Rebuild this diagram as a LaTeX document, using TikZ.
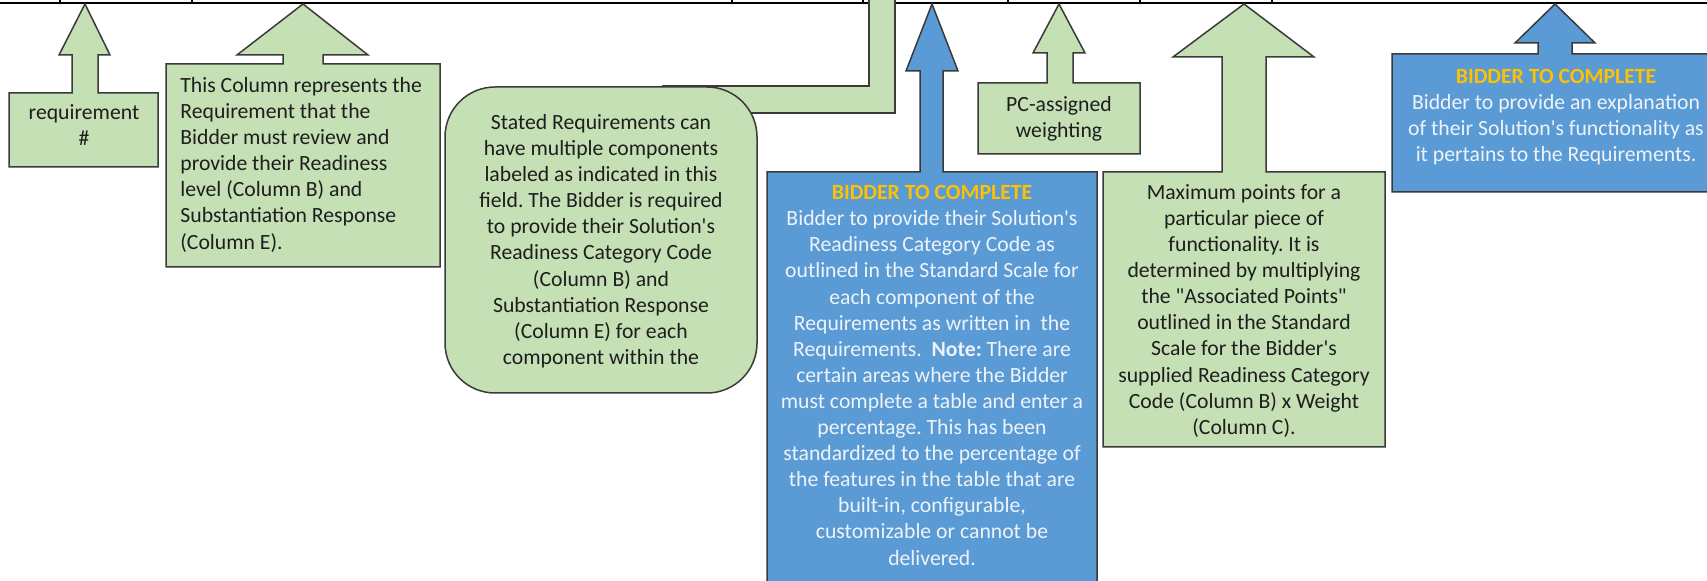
\documentclass[tikz,border=0pt]{standalone}
\usepackage{fontspec}
\setmainfont{Carlito}[Ligatures=TeXOff]
\definecolor{gfill}{HTML}{C5E0B4}
\definecolor{bfill}{HTML}{5B9BD5}
\definecolor{gold}{HTML}{FFC000}
\definecolor{edgec}{HTML}{3A3A3A}
\definecolor{btext}{HTML}{EEF3FA}
\definecolor{gtext}{HTML}{1E1E1E}
\frenchspacing
\begin{document}
\begin{tikzpicture}[x=0.5pt,y=-0.5pt,
  gshape/.style={fill=gfill,draw=edgec,line width=0.75pt,line join=miter},
  bshape/.style={fill=bfill,draw=edgec,line width=0.75pt,line join=miter},
  txt/.style={inner sep=0pt,font=\fontsize{10.85pt}{13.05pt}\selectfont},
  gtxt/.style={txt,text=gtext},
  btxt/.style={txt,text=btext}]
\useasboundingbox (0,0) rectangle (1707,581);
\clip (0,0) rectangle (1707,581);
% table border at top
\draw[line width=1pt,black] (0,3) -- (1707,3);
\foreach \xx in {60,192,732,863,1008,1140,1272}
  \draw[line width=0.75pt,black] (\xx,0) -- (\xx,3);
% callout 1
\path[gshape] (9,93) -- (72,93) -- (72,55) -- (59,55) -- (85,4) -- (110,55) -- (98,55) -- (98,93) -- (158,93) -- (158,167) -- (9,167) -- cycle;
\node[gtxt,align=center,anchor=north] (req) at (84,104) {requirement\\\#};
% callout 2
\path[gshape] (166,64) -- (283,64) -- (283,55) -- (237,55) -- (303,4) -- (368,55) -- (323,55) -- (323,64) -- (440,64) -- (440,267) -- (166,267) -- cycle;
\node[gtxt,align=left,anchor=north west] (col) at (180,77) {This Column represents the\\Requirement that the\\Bidder must review and\\provide their Readiness\\level (Column B) and\\Substantiation Response\\(Column E).};
% bent arrow behind rounded box
\path[gshape] (663,86) -- (869,86) -- (869,-10) -- (895,-10) -- (895,113) -- (663,113) -- cycle;
% rounded box
\path[gshape,rounded corners=25pt] (445,87) rectangle (757,393);
\node[gtxt,align=center,anchor=north] (stated) at (601,114) {Stated Requirements can\\have multiple components\\labeled as indicated in this\\field. The Bidder is required\\to provide their Solution's\\Readiness Category Code\\(Column B) and\\Substantiation Response\\(Column E) for each\\component within the};
% blue callout middle
\path[bshape] (767,172) -- (920,172) -- (920,71) -- (906,71) -- (932,4) -- (958,71) -- (943,71) -- (943,172) -- (1097,172) -- (1097,600) -- (767,600) -- cycle;
\node[btxt,align=center,anchor=north] (bid1) at (932,185) {{\color{gold}\bfseries BIDDER TO COMPLETE}\\Bidder to provide their Solution's\\Readiness Category Code as\\outlined in the Standard Scale for\\each component of the\\Requirements as written in\ \ the\\Requirements.\ \ \textbf{Note:} There are\\certain areas where the Bidder\\must complete a table and enter a\\percentage. This has been\\standardized to the percentage of\\the features in the table that are\\built-in, configurable,\\customizable or cannot be\\delivered.};
% PC-assigned weighting
\path[gshape] (978,83) -- (1047,83) -- (1047,53) -- (1033,53) -- (1059,4) -- (1085,53) -- (1073,53) -- (1073,83) -- (1140,83) -- (1140,154) -- (978,154) -- cycle;
\node[gtxt,align=center,anchor=north] (pc) at (1059,96) {PC-assigned\\weighting};
% Maximum points
\path[gshape] (1103,172) -- (1222,172) -- (1222,57) -- (1173,57) -- (1244,4) -- (1314,57) -- (1266,57) -- (1266,172) -- (1385,172) -- (1385,447) -- (1103,447) -- cycle;
\node[gtxt,align=center,anchor=north] (maxp) at (1244,184) {Maximum points for a\\particular piece of\\functionality. It is\\determined by multiplying\\the "Associated Points"\\outlined in the Standard\\Scale for the Bidder's\\supplied Readiness Category\\Code (Column B) x Weight\\(Column C).};
% blue callout right
\path[bshape] (1392,54) -- (1538,54) -- (1538,43) -- (1515,43) -- (1555,4) -- (1595,43) -- (1572,43) -- (1572,54) -- (1730,54) -- (1730,192) -- (1392,192) -- cycle;
\node[btxt,align=center,anchor=north] (bid2) at (1556,69) {{\color{gold}\bfseries BIDDER TO COMPLETE}\\Bidder to provide an explanation\\of their Solution's functionality as\\it pertains to the Requirements.};
\end{tikzpicture}
\end{document}
